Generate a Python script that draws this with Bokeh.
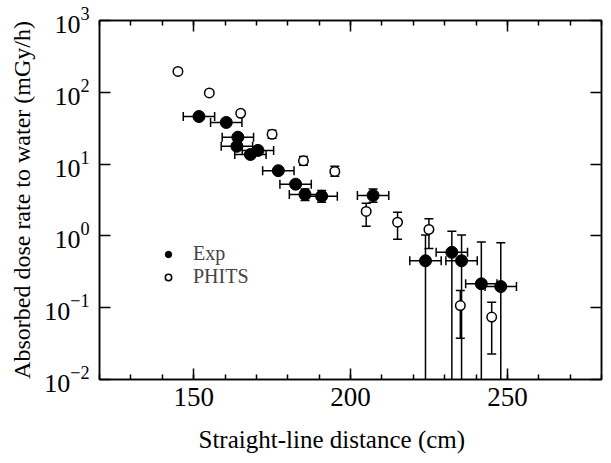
from bokeh.plotting import figure
from bokeh.models import (ColumnDataSource, Whisker, TeeHead, LinearAxis, Title,
                          SingleIntervalTicker, FixedTicker, LogTickFormatter, Legend,
                          LegendItem, Range1d, CustomJSTickFormatter)
from bokeh.embed import file_html
from bokeh.resources import INLINE

# ---- data ----
exp_x = [151.7, 160.4, 164.1, 163.8, 168.1, 170.5, 177.0, 182.5, 185.5, 190.8,
         207.2, 223.9, 232.3, 235.4, 241.7, 247.9]
exp_y = [46.0, 38.0, 23.7, 17.7, 13.6, 15.5, 8.1, 5.25, 3.78, 3.57,
         3.66, 0.45, 0.59, 0.45, 0.215, 0.197]
exp_xerr = [5.0] * 16
exp_ylo = [43.0, 35.5, 22.0, 16.5, 12.7, 14.5, 7.5, 4.8, 3.1, 2.95,
           2.95, 0.01, 0.01, 0.01, 0.01, 0.01]
exp_yhi = [49.0, 40.5, 25.4, 19.0, 14.5, 16.5, 8.7, 5.7, 4.5, 4.3,
           4.5, 1.03, 1.16, 1.03, 0.82, 0.80]

phits_x = [145, 155, 165, 175, 185, 195, 205, 215, 225, 235, 245]
phits_y = [195, 98, 51, 26, 11.1, 7.9, 2.19, 1.55, 1.23, 0.107, 0.074]
phits_lo = [186, 93, 47.5, 23.0, 9.6, 6.8, 1.36, 0.90, 0.67, 0.0376, 0.0227]
phits_hi = [205, 103, 55, 29.5, 12.8, 9.3, 2.85, 2.14, 1.73, 0.174, 0.119]

x_ticks_interval = 50
y_ticks = [1e-2, 1e-1, 1e0, 1e1, 1e2, 1e3]
x_title = "Straight-line distance (cm)"
y_title = "Absorbed dose rate to water (mGy/h)"
legend_labels = ["Exp", "PHITS"]

FONT = "Liberation Serif"
LW = 1.5

exp_src = ColumnDataSource(dict(
    x=exp_x, y=exp_y,
    xl=[a - b for a, b in zip(exp_x, exp_xerr)],
    xu=[a + b for a, b in zip(exp_x, exp_xerr)],
    yl=exp_ylo, yu=exp_yhi))
ph_src = ColumnDataSource(dict(x=phits_x, y=phits_y, yl=phits_lo, yu=phits_hi))

# split exp vertical bars: capped both ends vs. running down to the axis
capped = [i for i, v in enumerate(exp_ylo) if v > 0.01]
open_low = [i for i, v in enumerate(exp_ylo) if v <= 0.01]
exp_src_c = ColumnDataSource(dict(x=[exp_x[i] for i in capped], yl=[exp_ylo[i] for i in capped],
                                  yu=[exp_yhi[i] for i in capped]))
exp_src_o = ColumnDataSource(dict(x=[exp_x[i] for i in open_low], yl=[exp_ylo[i] for i in open_low],
                                  yu=[exp_yhi[i] for i in open_low]))

p = figure(frame_width=502, frame_height=359,
           x_range=Range1d(120, 280), y_range=Range1d(1e-2, 1e3),
           y_axis_type="log", output_backend="svg", toolbar_location=None,
           min_border_left=99, min_border_right=2, min_border_top=20, min_border_bottom=40)
p.xgrid.visible = False
p.ygrid.visible = False
p.outline_line_color = "black"
p.outline_line_width = LW
p.background_fill_color = "white"
p.border_fill_color = "white"

blank = CustomJSTickFormatter(code="return ''")


def style_axis(ax, labels=True):
    ax.axis_line_color = "black"
    ax.axis_line_width = LW
    ax.major_tick_line_color = "black"
    ax.major_tick_line_width = LW
    ax.minor_tick_line_color = "black"
    ax.minor_tick_line_width = LW
    ax.major_tick_in = 11
    ax.major_tick_out = 0
    ax.minor_tick_in = 5
    ax.minor_tick_out = 0
    ax.major_label_text_font = FONT
    ax.axis_label_text_font = FONT
    ax.axis_label_text_font_style = "normal"
    ax.major_label_text_color = "black"
    ax.axis_label_text_color = "black"
    if not labels:
        ax.formatter = blank
        ax.major_label_standoff = 0


xa = p.xaxis[0]
xa.ticker = SingleIntervalTicker(interval=x_ticks_interval, num_minor_ticks=5)
style_axis(xa)
xa.major_label_text_font_size = "27px"
xa.major_label_standoff = 8

ya = p.yaxis[0]
ya.ticker = FixedTicker(ticks=y_ticks, minor_ticks=[])
ya.formatter = LogTickFormatter()
style_axis(ya)
ya.minor_tick_line_color = None
ya.major_label_text_font_size = "26px"
ya.major_label_standoff = 10
ya.axis_label = y_title
ya.axis_label_text_font_size = "24px"
ya.axis_label_standoff = 6

top = LinearAxis(ticker=SingleIntervalTicker(interval=x_ticks_interval, num_minor_ticks=5))
style_axis(top, labels=False)
p.add_layout(top, "above")

right = LinearAxis(ticker=FixedTicker(ticks=y_ticks, minor_ticks=[]))
style_axis(right, labels=False)
right.minor_tick_line_color = None
p.add_layout(right, "right")

# x-axis title (slightly left of the frame centre, as in the reference)
xt = Title(text=x_title, align="left", offset=99, standoff=31,
           text_font=FONT, text_font_size="25px", text_font_style="normal",
           text_color="black")
p.add_layout(xt, "below")


# error bars
def tee():
    return TeeHead(size=9, line_width=LW, line_color="black")


wx = Whisker(source=exp_src, base="y", lower="xl", upper="xu", dimension="width",
             line_color="black", line_width=LW, level="underlay",
             lower_head=tee(), upper_head=tee())
wyc = Whisker(source=exp_src_c, base="x", lower="yl", upper="yu", dimension="height",
              line_color="black", line_width=LW, level="underlay",
              lower_head=tee(), upper_head=tee())
wyo = Whisker(source=exp_src_o, base="x", lower="yl", upper="yu", dimension="height",
              line_color="black", line_width=LW, level="underlay",
              lower_head=None, upper_head=tee())
wp = Whisker(source=ph_src, base="x", lower="yl", upper="yu", dimension="height",
             line_color="black", line_width=LW, level="underlay",
             lower_head=tee(), upper_head=tee())
for w in (wx, wyc, wyo, wp):
    p.add_layout(w)

# smaller copies drawn underneath the data markers; they provide the legend glyphs
leg_e = p.scatter("x", "y", source=exp_src, marker="circle", size=8,
                  fill_color="black", line_color="black", line_width=1)
leg_p = p.scatter("x", "y", source=ph_src, marker="circle", size=7.5,
                  fill_color="white", line_color="black", line_width=LW)

p.scatter("x", "y", source=exp_src, marker="circle", size=12,
          fill_color="black", line_color="black", line_width=1)
p.scatter("x", "y", source=ph_src, marker="circle", size=9.5,
          fill_color="white", line_color="black", line_width=LW)

legend = Legend(items=[LegendItem(label=legend_labels[0], renderers=[leg_e], index=0),
                       LegendItem(label=legend_labels[1], renderers=[leg_p], index=0)],
                location=(61, 91), padding=0, margin=0, spacing=-2,
                glyph_width=16, glyph_height=18, label_height=18, label_standoff=17,
                label_text_font=FONT, label_text_font_size="20px",
                border_line_color=None, background_fill_alpha=0)
p.add_layout(legend)

open("out.html", "w").write(file_html(p, INLINE))
